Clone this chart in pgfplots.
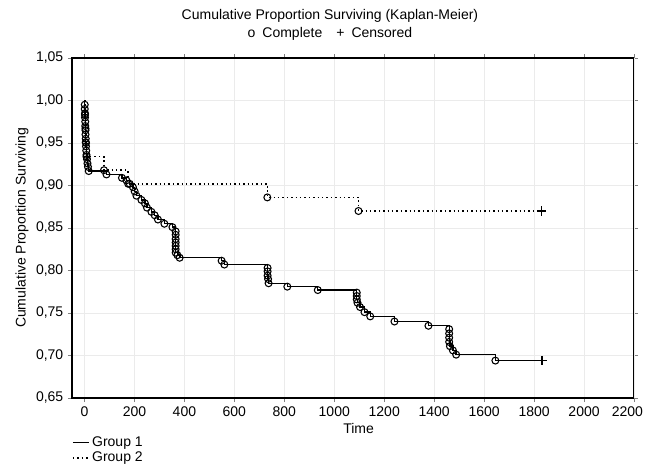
\documentclass[border=0pt]{standalone}
\usepackage{fontspec}
\setmainfont{Liberation Sans}
\usepackage{pgfplots}
\pgfplotsset{compat=1.18}

% Kaplan-Meier events: time, survival after the event
\newcommand{\groupone}{
(1,0.995) (1,0.990) (2,0.985) (2,0.980) (3,0.975) (3,0.970) (4,0.965) (4,0.960)
(5,0.955) (5,0.951) (6,0.946) (7,0.941) (8,0.936) (10,0.931) (12,0.926) (14,0.922)
(17,0.917) (88,0.913) (150,0.909) (168,0.906) (181,0.902) (194,0.898) (201,0.893)
(208,0.888) (228,0.883) (242,0.879) (250,0.874) (268,0.869) (281,0.865) (294,0.860)
(320,0.855) (352,0.851) (365,0.846) (365,0.842) (365,0.837) (365,0.833) (365,0.829)
(365,0.825) (365,0.821) (372,0.818) (381,0.815) (549,0.8115) (560,0.807)
(733,0.803) (733,0.799) (733,0.794) (735,0.790) (737,0.785) (812,0.781) (934,0.777)
(1090,0.774) (1090,0.770) (1090,0.766) (1093,0.762) (1103,0.757) (1121,0.751)
(1144,0.746) (1241,0.740) (1377,0.735) (1460,0.731) (1460,0.726) (1460,0.721)
(1460,0.716) (1463,0.711) (1475,0.706) (1488,0.701) (1645,0.694)}
\newcommand{\grouptwo}{
(2,0.983) (4,0.967) (6,0.950) (8,0.934) (78,0.918) (175,0.902) (732,0.886) (1097,0.870)}

\begin{document}
\begin{tikzpicture}
\tikzset{kmdots/.style={dash pattern=on 1.1pt off 2.2pt}}
\begin{axis}[
    scale only axis, width=421.5pt, height=255pt,
    xmin=-50, xmax=2200, ymin=0.65, ymax=1.05,
    xtick={0,200,...,2000}, ytick={0.65,0.70,...,1.051},
    extra x ticks={2200},
    extra x tick style={xticklabel style={xshift=-5pt}},
    tick align=outside, major tick length=3pt,
    grid=major, grid style={gray!16, line width=0.6pt},
    axis line style={line width=0.8pt},
    font=\fontsize{10.5}{13}\selectfont,
    /pgf/number format/assume math mode=true,
    xticklabel style={/pgf/number format/1000 sep={}},
    yticklabel style={/pgf/number format/.cd, use comma, fixed, fixed zerofill, precision=2},
    title={Cumulative Proportion Surviving (Kaplan-Meier)\\o\enspace Complete\quad +\enspace Censored},
    title style={align=center, at={(0.459,1)}, anchor=south, yshift=4pt},
    xlabel={Time},
    xlabel style={at={(axis description cs:0.51,0)}, anchor=center, yshift=-23pt},
    ylabel={Cumulative Proportion Surviving},
    ylabel style={at={(axis description cs:-0.089,0.5)}, anchor=center},
    legend style={draw=none, fill=none, at={(axis description cs:0,0)}, anchor=north west,
        yshift=-27pt, inner sep=0pt, row sep=-1.5pt, font=\fontsize{10.5}{12}\selectfont},
    legend cell align=left,
    legend image code/.code={\draw[#1] (0pt,0pt) -- (12pt,0pt);},
]
\addlegendimage{black, line width=0.9pt}
\addlegendentry{Group 1}
\addlegendimage{black, kmdots, line width=0.9pt}
\addlegendentry{Group 2}

% Group 1
\addplot[const plot, black, line width=1pt, no marks, forget plot]
  coordinates {(0,1.0) \groupone (1832,0.694)};
\addplot[only marks, mark=o, mark size=2.6pt, mark options={fill=white, line width=0.8pt}, forget plot]
  coordinates {\groupone};
\addplot[only marks, mark=+, mark size=3.5pt, mark options={line width=0.9pt}, forget plot]
  coordinates {(1832,0.694)};

% Group 2
\addplot[const plot, black, kmdots, line width=1.1pt, no marks, forget plot]
  coordinates {(0,1.0) \grouptwo (1830,0.870)};
\addplot[only marks, mark=o, mark size=2.6pt, mark options={fill=white, line width=0.8pt, solid}, forget plot]
  coordinates {\grouptwo};
\addplot[only marks, mark=+, mark size=3.5pt, mark options={line width=0.9pt, solid}, forget plot]
  coordinates {(1830,0.870)};
\end{axis}
\pgfresetboundingbox
\path (-54pt,-52.5pt) rectangle (432pt,298.5pt);
\end{tikzpicture}
\end{document}
